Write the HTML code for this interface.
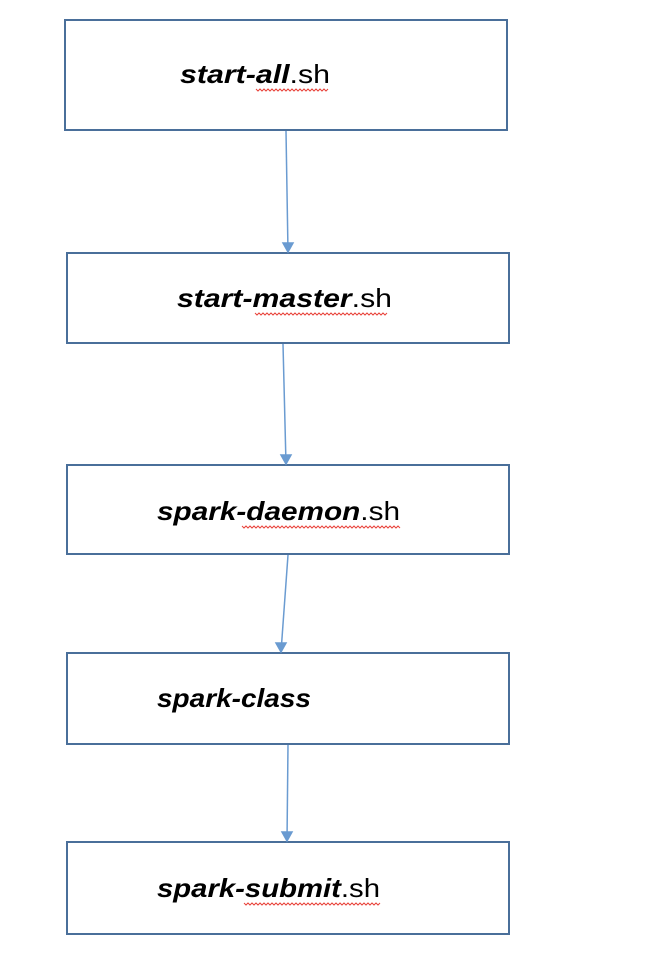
<!DOCTYPE html>
<html><head><meta charset="utf-8"><style>html,body{margin:0;padding:0;background:#fff}svg{display:block}</style></head>
<body>
<svg width="664" height="974" viewBox="0 0 664 974" xmlns="http://www.w3.org/2000/svg">
<g fill="#fff" stroke="#4a6f9a" stroke-width="2">
<rect x="65" y="20" width="442" height="110"/>
<rect x="67" y="253" width="442" height="90"/>
<rect x="67" y="465" width="442" height="89"/>
<rect x="67" y="653" width="442" height="91"/>
<rect x="67" y="842" width="442" height="92"/>
</g>
<g stroke="#6a9bd1" stroke-width="1.5" fill="none">
<line x1="286" y1="131" x2="288" y2="252"/><path d="M283,243 L293,243 L288,252 z" fill="#6a9bd1"/>
<line x1="283" y1="344" x2="286" y2="464"/><path d="M281,455 L291,455 L286,464 z" fill="#6a9bd1"/>
<line x1="288" y1="555" x2="281" y2="652"/><path d="M276,643 L286,643 L281,652 z" fill="#6a9bd1"/>
<line x1="288" y1="745" x2="287" y2="841"/><path d="M282,832 L292,832 L287,841 z" fill="#6a9bd1"/>
</g>
<g font-family="Liberation Sans, sans-serif" font-size="26" fill="#000">
<text x="180" y="83" textLength="150" lengthAdjust="spacingAndGlyphs"><tspan font-weight="bold" font-style="italic">start-all</tspan>.sh</text>
<text x="177" y="307" textLength="215" lengthAdjust="spacingAndGlyphs"><tspan font-weight="bold" font-style="italic">start-master</tspan>.sh</text>
<text x="157" y="520" textLength="243" lengthAdjust="spacingAndGlyphs"><tspan font-weight="bold" font-style="italic">spark-daemon</tspan>.sh</text>
<text x="157" y="707" textLength="154" lengthAdjust="spacingAndGlyphs" font-weight="bold" font-style="italic">spark-class</text>
<text x="157" y="897" textLength="223" lengthAdjust="spacingAndGlyphs"><tspan font-weight="bold" font-style="italic">spark-submit</tspan>.sh</text>
</g>
<g stroke="#e8423a" stroke-width="1" fill="none">
<path d="M256,89 l2,2 l2,-2 l2,2 l2,-2 l2,2 l2,-2 l2,2 l2,-2 l2,2 l2,-2 l2,2 l2,-2 l2,2 l2,-2 l2,2 l2,-2 l2,2 l2,-2 l2,2 l2,-2 l2,2 l2,-2 l2,2 l2,-2 l2,2 l2,-2 l2,2 l2,-2 l2,2 l2,-2 l2,2 l2,-2 l2,2 l2,-2 l2,2 l2,-2"/>
<path d="M255,313 l2,2 l2,-2 l2,2 l2,-2 l2,2 l2,-2 l2,2 l2,-2 l2,2 l2,-2 l2,2 l2,-2 l2,2 l2,-2 l2,2 l2,-2 l2,2 l2,-2 l2,2 l2,-2 l2,2 l2,-2 l2,2 l2,-2 l2,2 l2,-2 l2,2 l2,-2 l2,2 l2,-2 l2,2 l2,-2 l2,2 l2,-2 l2,2 l2,-2 l2,2 l2,-2 l2,2 l2,-2 l2,2 l2,-2 l2,2 l2,-2 l2,2 l2,-2 l2,2 l2,-2 l2,2 l2,-2 l2,2 l2,-2 l2,2 l2,-2 l2,2 l2,-2 l2,2 l2,-2 l2,2 l2,-2 l2,2 l2,-2 l2,2 l2,-2 l2,2 l2,-2"/>
<path d="M242,526 l2,2 l2,-2 l2,2 l2,-2 l2,2 l2,-2 l2,2 l2,-2 l2,2 l2,-2 l2,2 l2,-2 l2,2 l2,-2 l2,2 l2,-2 l2,2 l2,-2 l2,2 l2,-2 l2,2 l2,-2 l2,2 l2,-2 l2,2 l2,-2 l2,2 l2,-2 l2,2 l2,-2 l2,2 l2,-2 l2,2 l2,-2 l2,2 l2,-2 l2,2 l2,-2 l2,2 l2,-2 l2,2 l2,-2 l2,2 l2,-2 l2,2 l2,-2 l2,2 l2,-2 l2,2 l2,-2 l2,2 l2,-2 l2,2 l2,-2 l2,2 l2,-2 l2,2 l2,-2 l2,2 l2,-2 l2,2 l2,-2 l2,2 l2,-2 l2,2 l2,-2 l2,2 l2,-2 l2,2 l2,-2 l2,2 l2,-2 l2,2 l2,-2 l2,2 l2,-2 l2,2 l2,-2 l2,2"/>
<path d="M244,903 l2,2 l2,-2 l2,2 l2,-2 l2,2 l2,-2 l2,2 l2,-2 l2,2 l2,-2 l2,2 l2,-2 l2,2 l2,-2 l2,2 l2,-2 l2,2 l2,-2 l2,2 l2,-2 l2,2 l2,-2 l2,2 l2,-2 l2,2 l2,-2 l2,2 l2,-2 l2,2 l2,-2 l2,2 l2,-2 l2,2 l2,-2 l2,2 l2,-2 l2,2 l2,-2 l2,2 l2,-2 l2,2 l2,-2 l2,2 l2,-2 l2,2 l2,-2 l2,2 l2,-2 l2,2 l2,-2 l2,2 l2,-2 l2,2 l2,-2 l2,2 l2,-2 l2,2 l2,-2 l2,2 l2,-2 l2,2 l2,-2 l2,2 l2,-2 l2,2 l2,-2 l2,2 l2,-2"/>
</g>
</svg>
</body></html>
